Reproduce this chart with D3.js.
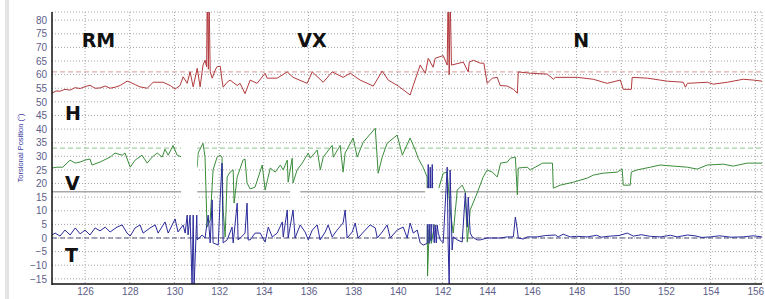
<!DOCTYPE html>
<html lang="en">
<head>
<meta charset="UTF-8">
<title>Torsional Position</title>
<style>
  html,body{margin:0;padding:0;background:#fff;}
  .axis text{font-family:"Liberation Sans",Arial,sans-serif;font-size:10px;fill:#60608a;}
  .axis path,.axis line{display:none;}
  .grid{stroke:#a4a4a4;stroke-width:1;stroke-dasharray:1,2;}
  .big{font-family:"DejaVu Sans",sans-serif;font-weight:bold;font-size:19px;fill:#111;}
</style>
<script src="https://cdn.jsdelivr.net/npm/d3@7/dist/d3.min.js"></script>
</head>
<body>
<script>
  // ---------- data (time, torsional position in deg) ----------
  const xTicks = [126,128,130,132,134,136,138,140,142,144,146,148,150,152,154,156];
  const yTicks = [-15,-10,-5,0,5,10,15,20,25,30,35,40,45,50,55,60,65,70,75,80];
  const regionLabels = ['RM','VX','N'];
  const seriesLabels = ['H','V','T'];

  const hPoints = [
    [124.52,53.2],[124.7,54.0],[124.88,53.9],[125.1,54.6],[125.33,54.3],[125.55,55.2],[125.78,54.9],
    [126.0,55.6],[126.22,56.1],[126.45,55.0],[126.67,55.1],[126.9,55.8],[127.12,55.0],[127.35,55.4],
    [127.57,56.0],[127.88,57.6],[128.02,57.2],[128.25,56.3],[128.46,55.5],[128.78,55.0],[129.05,57.2],
    [129.49,57.2],[129.81,56.0],[130.03,54.7],[130.25,56.0],[130.39,59.2],[130.57,56.8],[130.70,61.0],
    [130.84,55.5],[131.02,62.3],[131.15,55.5],[131.28,63.5],[131.37,65.3],[131.44,62.9],[131.47,90],
    [131.52,62],[131.55,90],[131.60,61.0],[131.69,58.7],[131.82,61.6],[131.91,62.9],[132.05,63.1],
    [132.13,58.0],[132.18,55.4],[132.36,57.2],[132.49,58.0],[132.81,56.0],[132.94,56.8],[133.16,53.0],
    [133.39,58.0],[133.70,56.8],[134.06,60.5],[134.15,58.7],[134.60,58.7],[135.05,61.0],[135.31,59.0],
    [135.94,56.8],[136.17,61.0],[136.66,57.2],[137.06,61.0],[137.55,59.0],[137.87,60.5],[138.31,58.0],
    [138.90,55.8],[139.30,61.3],[139.57,58.0],[140.02,55.8],[140.55,52.5],[140.69,56.0],[141.00,63.5],
    [141.23,60.5],[141.36,66.0],[141.58,62.7],[141.67,66.0],[142.03,67.0],[142.21,63.5],[142.25,90],
    [142.30,60.0],[142.34,90],[142.40,63.5],[142.93,64.6],[143.15,61.0],[143.20,64.6],[143.38,65.3],
    [143.69,64.2],[143.85,64.2],[144.00,56.8],[144.23,58.7],[144.45,59.0],[144.58,56.0],[144.90,55.8],
    [145.17,54.6],[145.35,53.2],[145.39,61.0],[145.93,60.5],[146.69,60.2],[146.96,58.3],[147.05,59.0],
    [148.03,59.0],[148.75,58.3],[149.37,56.8],[149.96,58.0],[150.09,54.6],[150.45,54.6],[150.49,59.0],
    [151.17,58.7],[152.06,57.6],[152.78,57.2],[152.87,55.4],[152.96,56.8],[153.85,57.2],[154.12,56.5],
    [154.75,57.2],[155.46,58.3],[155.91,58.0],[156.30,57.6]
  ];

  const vPoints = [
    [124.52,25.7],[124.75,26.0],[125.0,26.0],[125.33,28.6],[125.56,27.5],[125.78,27.9],[126.0,28.6],
    [126.22,29.0],[126.31,26.8],[126.67,27.9],[127.12,29.7],[127.34,31.2],[127.66,30.4],[127.79,31.2],
    [128.02,26.0],[128.24,28.6],[128.55,30.4],[128.78,27.5],[129.0,29.7],[129.23,31.2],[129.45,29.7],
    [129.58,32.6],[129.72,30.4],[129.94,34.0],[130.12,30.4],[130.34,29.7],[130.39,27.9],[130.48,29.7],
    [130.57,27.9],[131.02,26.0],[131.06,31.2],[131.28,34.8],[131.37,29.7],[131.46,4.0],[131.60,6.6],
    [131.73,25.0],[131.91,29.7],[132.05,30.4],[132.13,29.7],[132.18,10.3],[132.27,0.4],[132.36,22.4],
    [132.49,24.2],[132.63,25.0],[132.67,12.8],[132.81,22.4],[133.07,28.6],[133.16,29.0],[133.25,20.2],
    [133.39,18.0],[133.61,18.7],[133.93,26.8],[134.06,17.6],[134.29,25.7],[134.51,24.2],[134.74,26.8],
    [134.87,25.0],[135.05,28.6],[135.09,20.5],[135.27,29.3],[135.31,20.2],[135.49,25.0],[135.72,27.5],
    [135.99,31.2],[136.08,29.3],[136.39,32.3],[136.53,25.0],[136.66,29.7],[137.06,34.0],[137.11,29.7],
    [137.42,34.0],[137.55,24.2],[137.64,31.2],[138.0,36.7],[138.18,29.7],[138.45,35.2],[138.99,40.3],
    [139.12,23.8],[139.30,29.7],[139.52,34.8],[139.97,37.8],[140.20,30.4],[140.55,36.7],[140.78,32.3],
    [140.91,29.3],[141.13,26.0],[141.31,22.4],[141.33,-14],[141.40,3.0],[141.50,-2.0],[141.60,3.0],
    [141.81,17.6],[142.03,23.8],[142.21,24.2],[142.34,10.3],[142.48,1.8],[142.66,17.6],[142.88,19.4],
    [143.02,16.9],[143.11,-1.5],[143.24,10.3],[143.55,16.5],[143.82,22.4],[144.0,25.0],[144.23,24.2],
    [144.45,22.4],[144.6,27.5],[144.90,27.9],[145.04,29.3],[145.26,29.7],[145.35,15.8],[145.39,25.7],
    [145.79,26.0],[145.93,25.0],[146.48,27.5],[146.92,27.5],[146.96,18.3],[147.27,19.4],[147.86,20.5],
    [148.48,22.0],[148.75,23.1],[149.19,23.8],[149.82,24.2],[150.04,25.3],[150.09,19.4],[150.40,19.4],
    [150.45,24.2],[150.71,25.0],[151.30,26.0],[151.74,26.8],[152.33,26.4],[152.96,26.0],[153.40,25.3],
    [153.85,26.8],[154.57,27.1],[155.01,26.4],[155.64,27.5],[156.30,27.5]
  ];

  const tPoints = [
    [124.52,1.1],[124.66,1.8],[124.88,0.7],[125.1,2.9],[125.33,1.1],[125.56,3.7],[125.78,1.5],
    [126.0,2.9],[126.22,1.1],[126.45,3.7],[126.67,2.6],[126.9,4.0],[127.12,2.2],[127.43,4.0],
    [127.66,4.8],[127.88,1.8],[128.02,0.7],[128.24,3.7],[128.46,4.8],[128.6,1.8],[128.91,3.7],
    [129.14,4.8],[129.27,1.8],[129.58,5.9],[129.72,1.8],[130.03,7.0],[130.16,2.2],[130.39,4.8],
    [130.48,1.8],[130.57,8.4],[130.61,1.1],[130.70,8.4],[130.79,-18],[130.84,8.4],[130.88,-18],
    [131.0,8.4],[131.02,-0.7],[131.24,1.1],[131.37,0.0],[131.51,8.4],[131.6,-1.8],[131.69,14],
    [131.73,-1.8],[131.96,-2.6],[132.05,15],[132.13,27.5],[132.18,-1.8],[132.36,-0.7],[132.58,4.0],
    [132.63,-1.8],[132.81,12.8],[132.85,-0.7],[133.0,0.4],[133.16,1.8],[133.25,12.8],[133.3,-0.7],
    [133.39,-0.7],[133.61,1.8],[133.84,1.8],[134.06,-1.5],[134.2,4.0],[134.38,0.4],[134.6,1.8],
    [134.83,5.9],[134.87,0.4],[135.05,10.3],[135.09,0.0],[135.31,10.3],[135.4,0.0],[135.63,4.8],
    [135.85,2.2],[135.99,-0.7],[136.17,2.9],[136.39,4.8],[136.52,-0.7],[136.75,2.2],[136.88,4.8],
    [137.06,0.4],[137.28,2.9],[137.55,5.5],[137.64,10.3],[137.73,0.0],[137.96,2.2],[138.09,5.5],
    [138.22,0.0],[138.54,2.9],[138.76,4.8],[138.99,3.7],[139.08,0.0],[139.30,2.2],[139.52,4.8],
    [139.66,0.0],[139.97,2.9],[140.24,4.0],[140.42,0.0],[140.55,5.5],[140.69,1.8],[140.87,2.9],
    [141.0,-1.8],[141.14,-2.6],[141.31,-2.0],[141.36,27],[141.40,-2],[141.45,26],[141.49,-1],
    [141.54,27],[141.58,4.8],[141.63,-1.8],[141.67,4.8],[141.72,-1.8],[141.76,4.8],[141.81,1.8],
    [141.90,-0.7],[142.03,-1.8],[142.21,26.0],[142.25,-1.8],[142.30,-18],[142.34,25.0],[142.43,-4.4],
    [142.48,0.4],[142.66,-0.7],[142.88,-1.5],[143.02,16.5],[143.11,4.0],[143.15,15],[143.24,1.8],
    [143.33,0.4],[143.55,-0.7],[143.69,-0.7],[144.0,0.0],[144.28,0.0],[144.58,0.0],[144.90,0.4],
    [145.17,0.4],[145.26,7.7],[145.35,2.9],[145.39,0.0],[145.61,-0.4],[145.79,0.4],[146.24,0.4],
    [146.6,0.9],[147.05,1.1],[147.18,0.4],[147.4,1.4],[147.72,0.4],[148.0,0.6],[148.48,0.4],
    [148.9,1.0],[149.1,0.3],[149.51,0.7],[149.9,0.9],[150.27,1.8],[150.54,0.7],[150.9,1.2],
    [151.3,0.6],[151.75,0.4],[152.2,1.0],[152.5,0.4],[152.96,1.1],[153.3,0.8],[153.6,0.2],
    [153.99,0.4],[154.4,0.8],[154.9,0.3],[155.46,0.4],[155.9,0.8],[156.30,0.4]
  ];

  // reference levels drawn across the chart
  const hRef = 61, vRef = 33, baseRef = 17, zeroRef = 0;

  // ---------- layout ----------
  const width = 765;
  const height = 299;
  const padLeft = 52, padRight = 762, padTop = 12, padBottom = 284;

  const x = d3.scaleLinear().domain([124.52, 156.3]).range([padLeft, padRight]);
  const y = d3.scaleLinear().domain([-16.9, 83]).range([padBottom, padTop]);

  const svg = d3.select('body').append('svg')
    .attr('width', width)
    .attr('height', height);

  // light grey strip on the far left
  svg.append('rect')
    .attr('x', 5).attr('y', 0).attr('width', 4).attr('height', height)
    .attr('fill', '#e4e4e4');

  svg.append('clipPath').attr('id', 'plot')
    .append('rect')
    .attr('x', padLeft).attr('y', padTop)
    .attr('width', padRight - padLeft).attr('height', padBottom - padTop);

  // grid
  const grid = svg.append('g');
  grid.selectAll('.vg').data(xTicks).enter().append('line')
    .attr('class', 'grid')
    .attr('x1', (d) => x(d)).attr('x2', (d) => x(d))
    .attr('y1', padTop).attr('y2', padBottom);
  grid.selectAll('.hg').data(yTicks).enter().append('line')
    .attr('class', 'grid')
    .attr('x1', padLeft).attr('x2', padRight)
    .attr('y1', (d) => y(d)).attr('y2', (d) => y(d));
  grid.append('line').attr('class', 'grid')
    .attr('x1', padLeft).attr('x2', padRight).attr('y1', padTop).attr('y2', padTop);
  grid.append('line').attr('class', 'grid')
    .attr('x1', padRight).attr('x2', padRight).attr('y1', padTop).attr('y2', padBottom);

  // reference lines
  const refs = svg.append('g');
  refs.append('line')
    .attr('x1', padLeft).attr('x2', padRight).attr('y1', y(hRef)).attr('y2', y(hRef))
    .attr('stroke', '#d99a9a').attr('stroke-dasharray', '5,3');
  refs.append('line')
    .attr('x1', padLeft).attr('x2', padRight).attr('y1', y(vRef)).attr('y2', y(vRef))
    .attr('stroke', '#8fc28f').attr('stroke-dasharray', '5,3');
  refs.append('line')
    .attr('x1', padLeft).attr('x2', padRight).attr('y1', y(zeroRef)).attr('y2', y(zeroRef))
    .attr('stroke', '#55557f').attr('stroke-dasharray', '5,3');
  refs.append('line')
    .attr('x1', padLeft).attr('x2', padRight).attr('y1', y(baseRef)).attr('y2', y(baseRef))
    .attr('stroke', '#a9a9a9').attr('stroke-width', 1.6);

  // traces
  const line = d3.line().x((d) => x(d[0])).y((d) => y(d[1]));
  const traces = svg.append('g').attr('clip-path', 'url(#plot)');
  [[hPoints, '#b23a3e'], [vPoints, '#3b8c3b'], [tPoints, '#2a2a9a']].forEach(([pts, col]) => {
    traces.append('path')
      .datum(pts)
      .attr('d', line)
      .attr('fill', 'none')
      .attr('stroke', col)
      .attr('stroke-width', 1);
  });

  // washed-out patches visible in the original scan
  const patches = [
    [130.30, 131.02, 35.9, 9.5],
    [135.18, 135.63, 19.1, 11.4],
    [141.22, 141.90, 18.3, 5.1],
    [150.05, 150.45, 54.3, 41.5]
  ];
  svg.append('g').selectAll('rect').data(patches).enter().append('rect')
    .attr('x', (d) => x(d[0])).attr('width', (d) => x(d[1]) - x(d[0]))
    .attr('y', (d) => y(d[2])).attr('height', (d) => y(d[3]) - y(d[2]))
    .attr('fill', '#fff');

  // axes
  svg.append('g')
    .attr('class', 'axis')
    .attr('transform', `translate(${padLeft},0)`)
    .call(d3.axisLeft(y).tickValues(yTicks).tickSize(0).tickPadding(5));
  svg.append('g')
    .attr('class', 'axis')
    .attr('transform', `translate(0,${padBottom})`)
    .call(d3.axisBottom(x).tickValues(xTicks).tickSize(0).tickPadding(4));

  svg.append('line')
    .attr('x1', padLeft).attr('x2', padLeft).attr('y1', padTop).attr('y2', padBottom + 1)
    .attr('stroke', '#111').attr('stroke-width', 1.5);
  svg.append('line')
    .attr('x1', padLeft).attr('x2', padRight).attr('y1', padBottom).attr('y2', padBottom)
    .attr('stroke', '#111').attr('stroke-width', 1.5);

  svg.append('text')
    .attr('transform', `translate(23,148) rotate(-90)`)
    .attr('text-anchor', 'middle')
    .style('font-family', '"Liberation Sans", Arial, sans-serif')
    .style('font-size', '7.5px')
    .attr('fill', '#3a3aa0')
    .text('Torsional Position (°)');

  // region and trace labels
  const regionX = [125.85, 135.5, 147.85];
  svg.selectAll('.reg').data(regionLabels).enter().append('text')
    .attr('class', 'big')
    .attr('x', (d, i) => x(regionX[i]))
    .attr('y', y(70))
    .text((d) => d);

  const seriesY = [43.3, 17.6, -8.8];
  svg.selectAll('.ser').data(seriesLabels).enter().append('text')
    .attr('class', 'big')
    .attr('x', x(125.1))
    .attr('y', (d, i) => y(seriesY[i]))
    .text((d) => d);
</script>
</body>
</html>
